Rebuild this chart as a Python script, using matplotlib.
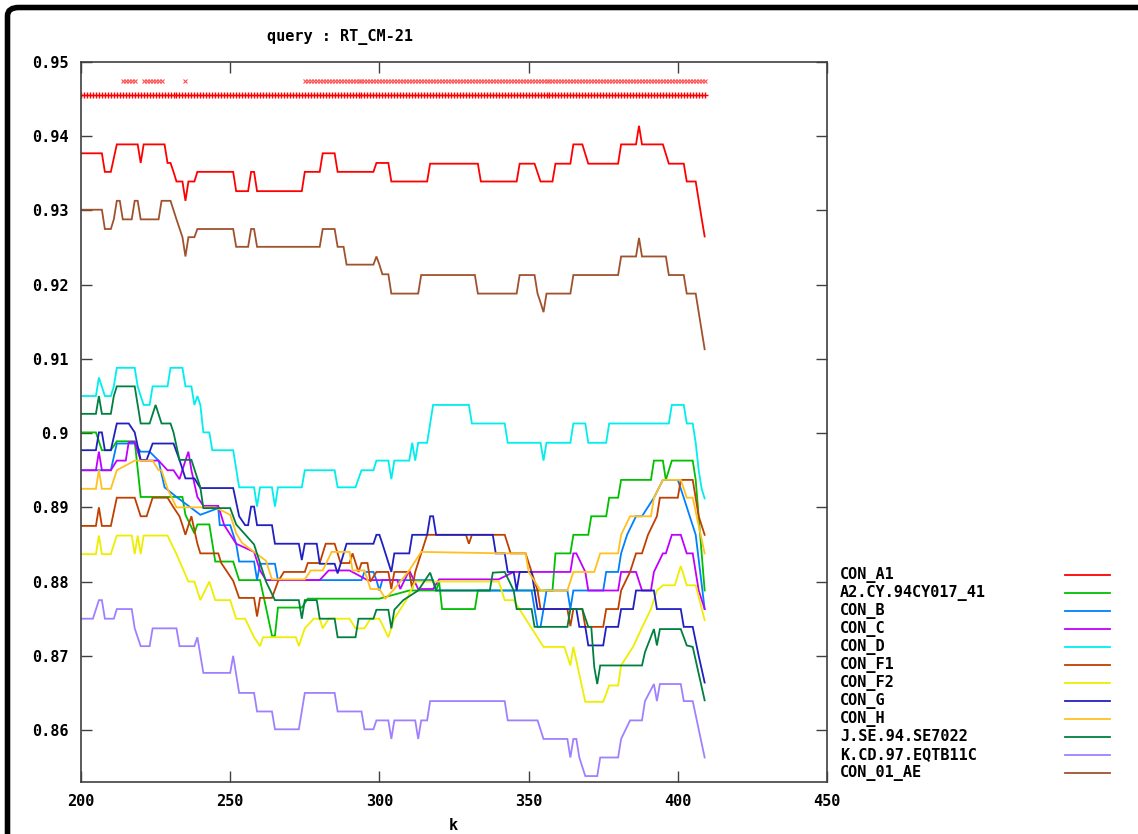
import matplotlib
matplotlib.use("Agg")
import matplotlib.pyplot as plt
import numpy as np
from matplotlib.patches import FancyBboxPatch

# series as (k, value) vertices
con_a1 = [(200, .9377), (207, .9377), (208, .9352), (210, .9352), (212, .9389), (219, .9389), (220, .9364),
          (221, .9389), (228, .9389), (229, .9364), (230, .9364), (231, .9352), (232, .9339), (234, .9339),
          (235, .9313), (236, .9339), (238, .9339), (239, .9352), (251, .9352), (252, .9326), (256, .9326),
          (257, .9352), (258, .9352), (259, .9326), (274, .9326), (275, .9352), (280, .9352), (281, .9377),
          (285, .9377), (286, .9352), (298, .9352), (299, .9364), (303, .9364), (304, .9339), (316, .9339),
          (317, .9363), (333, .9363), (334, .9339), (346, .9339), (347, .9363), (352, .9363), (354, .9339),
          (358, .9339), (359, .9363), (364, .9363), (365, .9389), (368, .9389), (370, .9363), (380, .9363),
          (381, .9389), (386, .9389), (387, .9414), (388, .9389), (395, .9389), (397, .9363), (402, .9363),
          (403, .9339), (406, .9339), (407, .9314), (408, .9289), (409, .9265)]
a2_cy = [(200, .9001), (205, .9001), (206, .8989), (207, .8977), (210, .8977), (212, .8989), (218, .8989),
         (220, .8914), (234, .8914), (235, .8890), (238, .8865), (239, .8877), (243, .8877), (245, .8827),
         (251, .8827), (253, .8802), (260, .8802), (262, .8765), (264, .8727), (265, .8727), (266, .8765),
         (274, .8765), (276, .8777), (300, .8777), (310, .8788), (319, .8788), (320, .8800), (321, .8763),
         (332, .8763), (333, .8788), (358, .8788), (359, .8838), (364, .8838), (365, .8863), (370, .8863),
         (371, .8888), (376, .8888), (377, .8913), (380, .8913), (381, .8937), (391, .8937), (392, .8963),
         (395, .8963), (396, .8937), (398, .8963), (405, .8963), (406, .8937), (409, .8788)]
con_b = [(200, .8950), (210, .8950), (212, .8986), (218, .8986), (220, .8975), (223, .8975), (226, .8963),
         (228, .8927), (232, .8914), (236, .8902), (240, .8890), (246, .8899), (246.5, .8876), (250, .8876),
         (252, .8851), (253, .8827), (258, .8827), (259, .8802), (260, .8824), (265, .8824), (266, .8802),
         (294, .8802), (295, .8813), (298, .8813), (299, .8802), (300, .8788), (301, .8802), (318, .8802),
         (319, .8788), (351, .8788), (352, .8763), (353, .8739), (354, .8739), (355, .8763), (356, .8788),
         (363, .8788), (364, .8763), (365, .8788), (375, .8788), (376, .8813), (380, .8813), (381, .8838),
         (383, .8863), (386, .8888), (388, .8888), (392, .8913), (395, .8937), (400, .8937), (402, .8913),
         (404, .8888), (406, .8863), (409, .8763)]
con_c = [(200, .8950), (205, .8950), (206, .8975), (207, .8950), (210, .8950), (212, .8963), (215, .8963),
         (216, .8988), (218, .8988), (220, .8963), (226, .8963), (229, .8950), (231, .8950), (233, .8938),
         (235, .8963), (236, .8975), (237, .8950), (239, .8914), (241, .8902), (246, .8902), (248, .8876),
         (252, .8851), (258, .8840), (260, .8815), (262, .8802), (280, .8802), (283, .8815), (290, .8815),
         (296, .8802), (306, .8802), (307, .8790), (310, .8815), (313, .8790), (318, .8790), (320, .8803),
         (340, .8803), (345, .8813), (364, .8813), (365, .8838), (366, .8838), (369, .8813), (370, .8788),
         (380, .8788), (381, .8813), (386, .8813), (388, .8788), (391, .8788), (392, .8813), (395, .8838),
         (396, .8838), (398, .8863), (401, .8863), (403, .8838), (405, .8838), (407, .8788), (409, .8763)]
con_d = [(200, .9050), (205, .9050), (206, .9075), (208, .9050), (210, .9050), (211, .9063), (212, .9088),
         (218, .9088), (219, .9063), (220, .9050), (221, .9038), (223, .9038), (224, .9063), (229, .9063),
         (230, .9088), (234, .9088), (235, .9063), (237, .9063), (238, .9038), (239, .9050), (240, .9038),
         (241, .9001), (243, .9001), (244, .8977), (251, .8977), (252, .8952), (253, .8927), (258, .8927),
         (259, .8901), (260, .8927), (264, .8927), (265, .8901), (266, .8927), (274, .8927), (275, .8950),
         (285, .8950), (286, .8927), (292, .8927), (294, .8950), (298, .8950), (299, .8963), (303, .8963),
         (304, .8938), (305, .8963), (310, .8963), (311, .8987), (312, .8963), (313, .8987), (316, .8987),
         (318, .9038), (330, .9038), (331, .9013), (342, .9013), (343, .8987), (354, .8987), (355, .8963),
         (356, .8987), (364, .8987), (365, .9013), (369, .9013), (370, .8987), (376, .8987), (377, .9013),
         (397, .9013), (398, .9038), (402, .9038), (403, .9013), (405, .9013), (406, .8987), (407, .8950),
         (408, .8925), (409, .8912)]
con_f1 = [(200, .8875), (205, .8875), (206, .8900), (207, .8875), (210, .8875), (212, .8913), (218, .8913),
          (220, .8888), (222, .8888), (224, .8913), (229, .8913), (231, .8900), (233, .8888), (234, .8876),
          (235, .8863), (236, .8876), (237, .8888), (239, .8851), (240, .8838), (246, .8838), (247, .8825),
          (251, .8801), (253, .8778), (258, .8778), (259, .8753), (260, .8778), (264, .8778), (266, .8800),
          (268, .8813), (275, .8813), (276, .8825), (280, .8825), (282, .8851), (285, .8851), (287, .8825),
          (290, .8825), (291, .8838), (293, .8813), (294, .8825), (296, .8825), (297, .8800), (299, .8813),
          (303, .8813), (304, .8790), (305, .8813), (310, .8813), (311, .8790), (312, .8813), (314, .8838),
          (316, .8863), (329, .8863), (330, .8851), (331, .8863), (342, .8863), (344, .8838), (349, .8838),
          (351, .8813), (353, .8788), (354, .8763), (363, .8763), (364, .8740), (365, .8763), (368, .8763),
          (369, .8739), (375, .8739), (376, .8763), (380, .8763), (381, .8788), (384, .8813), (386, .8838),
          (388, .8838), (390, .8863), (393, .8888), (394, .8913), (400, .8913), (401, .8937), (405, .8937),
          (407, .8888), (409, .8863)]
con_f2 = [(200, .8837), (205, .8837), (206, .8862), (207, .8837), (210, .8837), (212, .8862), (217, .8862),
          (218, .8837), (219, .8862), (220, .8837), (221, .8862), (229, .8862), (232, .8837), (236, .8800),
          (238, .8800), (240, .8775), (243, .8800), (245, .8775), (250, .8775), (252, .8750), (255, .8750),
          (258, .8725), (260, .8713), (261, .8725), (272, .8725), (273, .8713), (275, .8737), (278, .8750),
          (280, .8750), (281, .8737), (283, .8750), (290, .8750), (292, .8737), (295, .8737), (297, .8750),
          (300, .8750), (303, .8725), (305, .8750), (309, .8775), (312, .8800), (340, .8800), (342, .8775),
          (345, .8775), (355, .8712), (362, .8712), (364, .8687), (365, .8712), (369, .8638), (375, .8638),
          (377, .8660), (380, .8660), (381, .8687), (385, .8712), (388, .8738), (391, .8763), (393, .8788),
          (395, .8795), (399, .8795), (401, .8821), (403, .8795), (406, .8795), (409, .8748)]
con_g = [(200, .8977), (205, .8977), (206, .9001), (207, .9001), (208, .8977), (210, .8977), (212, .9013),
         (216, .9013), (218, .9001), (220, .8964), (222, .8964), (224, .8986), (231, .8986), (233, .8964),
         (235, .8939), (238, .8939), (240, .8926), (251, .8926), (253, .8888), (255, .8876), (256, .8876),
         (257, .8901), (258, .8901), (259, .8876), (264, .8876), (265, .8851), (273, .8851), (274, .8829),
         (275, .8851), (279, .8851), (280, .8824), (285, .8824), (286, .8811), (287, .8824), (289, .8851),
         (298, .8851), (299, .8863), (300, .8863), (301, .8851), (304, .8813), (305, .8838), (310, .8838),
         (311, .8863), (316, .8863), (317, .8888), (318, .8888), (319, .8863), (338, .8863), (339, .8838),
         (342, .8838), (343, .8813), (345, .8813), (346, .8788), (347, .8813), (351, .8813), (352, .8788),
         (353, .8763), (366, .8763), (367, .8739), (369, .8739), (370, .8714), (375, .8714), (376, .8739),
         (380, .8739), (381, .8763), (385, .8763), (386, .8788), (392, .8788), (393, .8763), (401, .8763),
         (402, .8739), (405, .8739), (407, .8700), (409, .8664)]
con_h = [(200, .8925), (205, .8925), (206, .8950), (207, .8925), (210, .8925), (212, .8950), (218, .8963),
         (224, .8963), (226, .8950), (227, .8950), (229, .8925), (232, .8900), (238, .8900), (245, .8900),
         (250, .8890), (252, .8865), (254, .8852), (258, .8840), (262, .8828), (264, .8803), (275, .8803),
         (277, .8815), (281, .8815), (284, .8840), (290, .8840), (291, .8815), (295, .8815), (297, .8790),
         (300, .8790), (302, .8777), (305, .8790), (310, .8815), (314, .8840), (342, .8838), (349, .8838),
         (350, .8813), (354, .8788), (363, .8788), (365, .8813), (372, .8813), (374, .8838), (380, .8838),
         (381, .8863), (384, .8888), (391, .8888), (392, .8913), (395, .8937), (401, .8937), (403, .8913),
         (405, .8913), (409, .8838)]
j_se = [(200, .9026), (205, .9026), (206, .9050), (207, .9026), (210, .9026), (211, .9050), (212, .9063),
        (218, .9063), (219, .9038), (220, .9013), (223, .9013), (225, .9038), (227, .9013), (230, .9013),
        (231, .9001), (233, .8964), (237, .8964), (239, .8939), (240, .8927), (241, .8899), (250, .8899),
        (252, .8877), (258, .8850), (262, .8800), (265, .8775), (273, .8775), (274, .8750), (275, .8775),
        (279, .8775), (280, .8750), (285, .8750), (286, .8725), (292, .8725), (293, .8750), (298, .8750),
        (299, .8762), (303, .8762), (304, .8737), (305, .8762), (308, .8775), (313, .8788), (317, .8812),
        (319, .8788), (337, .8788), (338, .8812), (342, .8813), (345, .8788), (346, .8763), (351, .8763),
        (352, .8739), (363, .8739), (364, .8763), (368, .8763), (370, .8739), (371, .8739), (372, .8685),
        (373, .8662), (374, .8687), (388, .8687), (389, .8705), (392, .8736), (393, .8714), (394, .8736),
        (401, .8736), (403, .8714), (405, .8712), (409, .8640)]
k_cd = [(200, .8750), (204, .8750), (206, .8775), (207, .8775), (208, .8750), (211, .8750), (212, .8763),
        (217, .8763), (218, .8737), (220, .8713), (223, .8713), (224, .8737), (232, .8737), (233, .8713),
        (238, .8713), (239, .8725), (241, .8677), (250, .8677), (251, .8700), (253, .8650), (258, .8650),
        (259, .8625), (264, .8625), (265, .8601), (273, .8601), (275, .8650), (285, .8650), (286, .8625),
        (294, .8625), (295, .8601), (298, .8601), (299, .8613), (303, .8613), (304, .8588), (305, .8613),
        (312, .8613), (313, .8588), (314, .8613), (316, .8613), (317, .8639), (342, .8639), (343, .8613),
        (353, .8613), (355, .8588), (363, .8588), (364, .8563), (365, .8588), (366, .8588), (367, .8563),
        (369, .8538), (373, .8538), (374, .8563), (380, .8563), (381, .8588), (384, .8613), (388, .8613),
        (389, .8639), (392, .8662), (393, .8639), (394, .8662), (401, .8662), (402, .8639), (405, .8639),
        (409, .8563)]
con_01_ae = [(200, .9301), (207, .9301), (208, .9275), (210, .9275), (211, .9288), (212, .9313), (213, .9313),
             (214, .9288), (217, .9288), (218, .9313), (219, .9313), (220, .9288), (226, .9288), (227, .9313),
             (230, .9313), (232, .9288), (233, .9276), (234, .9264), (235, .9238), (236, .9264), (238, .9264),
             (239, .9275), (251, .9275), (252, .9251), (256, .9251), (257, .9275), (258, .9275), (259, .9251),
             (280, .9251), (281, .9275), (285, .9275), (286, .9251), (288, .9251), (289, .9227), (298, .9227),
             (299, .9238), (300, .9227), (301, .9214), (303, .9214), (304, .9188), (313, .9188), (314, .9213),
             (332, .9213), (333, .9188), (346, .9188), (347, .9213), (352, .9213), (353, .9188), (354, .9176),
             (355, .9163), (356, .9188), (364, .9188), (365, .9213), (380, .9213), (381, .9238), (386, .9238),
             (387, .9263), (388, .9238), (396, .9238), (397, .9213), (402, .9213), (403, .9188), (406, .9188),
             (407, .9163), (408, .9138), (409, .9113)]

names = ["CON_A1", "A2.CY.94CY017_41", "CON_B", "CON_C", "CON_D", "CON_F1", "CON_F2",
         "CON_G", "CON_H", "J.SE.94.SE7022", "K.CD.97.EQTB11C", "CON_01_AE"]
series = [con_a1, a2_cy, con_b, con_c, con_d, con_f1, con_f2, con_g, con_h, j_se, k_cd, con_01_ae]
colors = ["#ff0000", "#00c000", "#0080ff", "#c000ff", "#00eeee", "#c04000", "#eeee00",
          "#2020c0", "#ffc020", "#008040", "#a080ff", "#a0522d"]

# red marker rows above the curves
plus_k = np.arange(200, 410)
plus_level = 0.9456
cross_k = list(range(214, 219)) + list(range(221, 228)) + [235] + list(range(275, 410))
cross_level = 0.9475

W, H = 1138, 834
fig = plt.figure(figsize=(W / 100, H / 100), dpi=100)
fig.patch.set_facecolor("white")
font = {"family": "DejaVu Sans Mono", "weight": "bold", "size": 11}

ax = fig.add_axes([81 / W, 1 - 782 / H, (827 - 81) / W, (782 - 62) / H])
for name, pts, col in zip(names, series, colors):
    k = [p[0] for p in pts]
    v = [p[1] for p in pts]
    ax.plot(k, v, color=col, lw=1.3, solid_joinstyle="miter")

ax.plot(plus_k, [plus_level] * len(plus_k), ls="None", marker="+", ms=4, mew=1.0, color="#ff0000")
ax.plot(cross_k, [cross_level] * len(cross_k), ls="None", marker="x", ms=3, mew=0.8, color="#ff5050")

ax.set_xlim(200, 450)
ax.set_ylim(0.853, 0.95)
ax.set_xticks([200, 250, 300, 350, 400, 450])
yt = [0.86, 0.87, 0.88, 0.89, 0.9, 0.91, 0.92, 0.93, 0.94, 0.95]
ax.set_yticks(yt)
ax.set_yticklabels(["%g" % t for t in yt])
ax.tick_params(direction="in", length=8, width=1, color="#404040", top=True, right=True,
               pad=9, labelsize=11)
for lab in ax.get_xticklabels() + ax.get_yticklabels():
    lab.set_fontfamily("DejaVu Sans Mono")
    lab.set_fontweight("bold")
for sp in ax.spines.values():
    sp.set_color("#404040")
    sp.set_linewidth(1.2)

fig.text(340 / W, 1 - 37 / H, "query : RT_CM-21", ha="center", va="center", **font)
fig.text(453 / W, 1 - 825 / H, "k", ha="center", va="center", **font)

# legend drawn by hand at the right
for i, (name, col) in enumerate(zip(names, colors)):
    y = 1 - (575 + i * 17.98) / H
    fig.text(840 / W, y, name, ha="left", va="center", **font)
    fig.add_artist(plt.Line2D([1065 / W, 1110 / W], [y, y], color=col, lw=1.3))

# thick rounded frame on the top-left of the screenshot
frame = FancyBboxPatch((7.5 / W, -0.2), 1.3, 1.2 - 7.5 / H,
                       boxstyle="round,pad=0,rounding_size=0.01", transform=fig.transFigure,
                       fill=False, ec="black", lw=4)
fig.add_artist(frame)

fig.savefig("out.png", dpi=100)
